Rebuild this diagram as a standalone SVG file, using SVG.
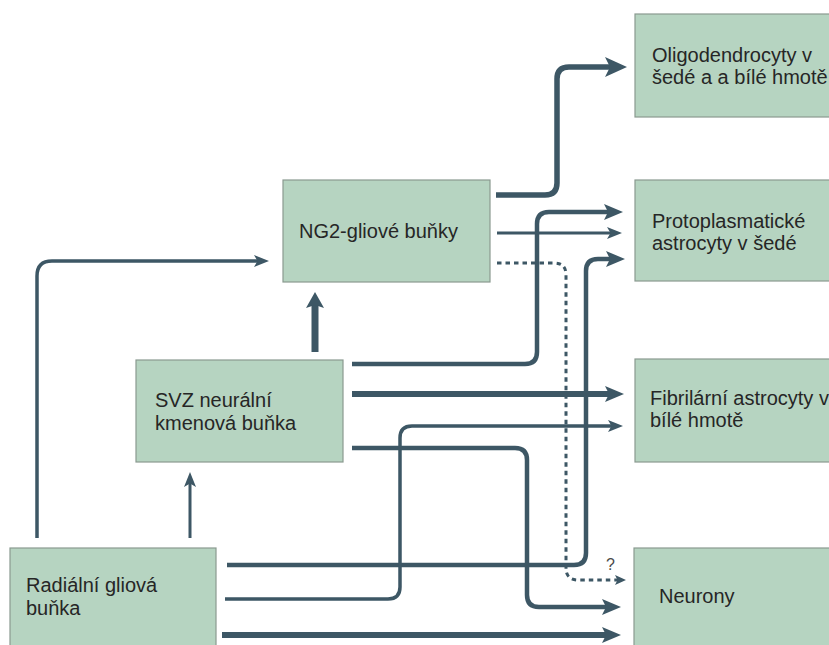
<svg xmlns="http://www.w3.org/2000/svg" width="829" height="645" viewBox="0 0 829 645">
<style>
.box{fill:#b6d4c1;stroke:#8a9a90;stroke-width:1.2}
.lbl{font-family:"Liberation Sans",Arial,sans-serif;font-size:20px;fill:#262626}
.c{fill:none;stroke:#3d5765;stroke-linecap:butt;stroke-linejoin:round}
</style>
<defs>
<marker id="big" viewBox="0 0 22 20" markerWidth="22" markerHeight="20" refX="12" refY="10" orient="auto" markerUnits="userSpaceOnUse"><path d="M0,0 L22,10 L0,20 L5,10 z" fill="#3d5765"/></marker>
<marker id="med" viewBox="0 0 19 16" markerWidth="19" markerHeight="16" refX="10" refY="8" orient="auto" markerUnits="userSpaceOnUse"><path d="M0,0 L19,8 L0,16 L4,8 z" fill="#3d5765"/></marker>
<marker id="small" viewBox="0 0 15 12" markerWidth="15" markerHeight="12" refX="8" refY="6" orient="auto" markerUnits="userSpaceOnUse"><path d="M0,0 L15,6 L0,12 L3.5,6 z" fill="#3d5765"/></marker>
<marker id="tiny" viewBox="0 0 11 10" markerWidth="11" markerHeight="10" refX="5" refY="5" orient="auto" markerUnits="userSpaceOnUse"><path d="M0,0 L11,5 L0,10 L2.5,5 z" fill="#3d5765"/></marker>
<marker id="fat" viewBox="0 0 16 18" markerWidth="16" markerHeight="18" refX="6" refY="9" orient="auto" markerUnits="userSpaceOnUse"><path d="M0,0 L16,9 L0,18 L3,9 z" fill="#3d5765"/></marker>
</defs>
<g id="connectors">
<path class="c" stroke-width="5.5" d="M496,195 H545 Q557,195 557,183 V79 Q557,67 569,67 H617" marker-end="url(#big)"/>
<path class="c" stroke-width="4.5" d="M352,364 H525 Q537,364 537,352 V224 Q537,212 549,212 H614" marker-end="url(#med)"/>
<path class="c" stroke-width="3" d="M497,233 H615" marker-end="url(#small)"/>
<path class="c" stroke-width="3" stroke-dasharray="4.5 4" d="M497,263 H554 Q566,263 566,275 V568 Q566,580 578,580 H620" marker-end="url(#tiny)"/>
<path class="c" stroke-width="4.5" d="M227,565 H574 Q586,565 586,553 V271 Q586,259 598,259 H616" marker-end="url(#med)"/>
<path class="c" stroke-width="6" d="M352,394 H615" marker-end="url(#med)"/>
<path class="c" stroke-width="3.5" d="M225,599 H388 Q400,599 400,587 V438 Q400,426 412,426 H616" marker-end="url(#small)"/>
<path class="c" stroke-width="4.5" d="M352,448 H515 Q527,448 527,460 V595 Q527,607 539,607 H612" marker-end="url(#med)"/>
<path class="c" stroke-width="6" d="M222,635 H612" marker-end="url(#med)"/>
<path class="c" stroke-width="3.5" d="M37,538 V276 Q37,261 52,261 H262" marker-end="url(#small)"/>
<path class="c" stroke-width="3" d="M190,538 V479" marker-end="url(#small)"/>
<path class="c" stroke-width="7" d="M315,352 V302" marker-end="url(#fat)"/>
<text x="606" y="570" style="font-family:'Liberation Sans',Arial,sans-serif;font-size:16px;fill:#4a4a4a">?</text>
</g>
<g id="oligo"><rect class="box" x="635" y="14" width="210" height="103"/><text class="lbl" x="652" y="62">Oligodendrocyty v</text><text class="lbl" x="652" y="84">šedé a a bílé hmotě</text></g>
<g id="proto"><rect class="box" x="635" y="180" width="210" height="101"/><text class="lbl" x="652" y="228">Protoplasmatické</text><text class="lbl" x="652" y="250">astrocyty v šedé</text></g>
<g id="fibr"><rect class="box" x="635" y="359" width="210" height="103"/><text class="lbl" x="650" y="405">Fibrilární astrocyty v</text><text class="lbl" x="650" y="427">bílé hmotě</text></g>
<g id="neurony"><rect class="box" x="634" y="548" width="210" height="110"/><text class="lbl" x="659" y="603">Neurony</text></g>
<g id="ng2"><rect class="box" x="283" y="180" width="207" height="102"/><text class="lbl" x="299" y="238">NG2-gliové buňky</text></g>
<g id="svz"><rect class="box" x="136" y="360" width="207" height="102"/><text class="lbl" x="155" y="407">SVZ neurální</text><text class="lbl" x="155" y="430">kmenová buňka</text></g>
<g id="radial"><rect class="box" x="10" y="548" width="206" height="110"/><text class="lbl" x="26" y="592">Radiální gliová</text><text class="lbl" x="26" y="615">buňka</text></g>
</svg>
